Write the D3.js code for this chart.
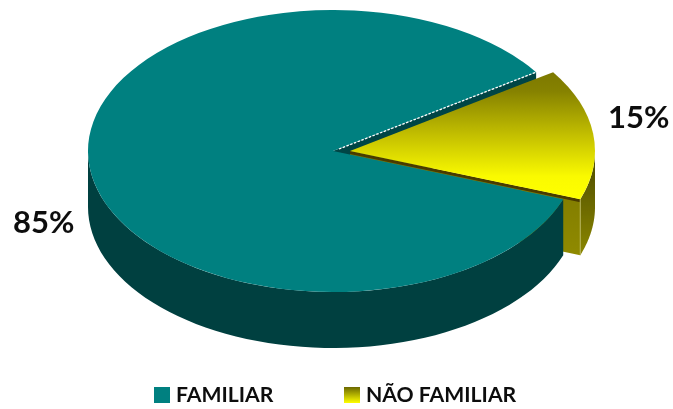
<!DOCTYPE html>
<html><head><meta charset="utf-8">
<script src="https://cdn.jsdelivr.net/npm/d3@7/dist/d3.min.js"></script>
<style>html,body{margin:0;padding:0;background:#fff}svg{display:block}text{font-family:Lato,"Open Sans",sans-serif;font-weight:700;fill:#111}</style>
</head><body><svg id="c" width="673" height="409"></svg>
<script>
const categories = ["FAMILIAR", "NÃO FAMILIAR"];
const values = [85, 15];
const labels = ["85%", "15%"];

const svg = d3.select("#c");
const defs = svg.append("defs");
defs.append("filter").attr("id","soft").attr("x","-5%").attr("y","-5%").attr("width","110%").attr("height","110%")
  .append("feGaussianBlur").attr("stdDeviation",0.55);
function grad(id, stops){
  const g = defs.append("linearGradient").attr("id",id).attr("x1",0).attr("y1",0).attr("x2",0).attr("y2",1);
  stops.forEach(([o,c])=>g.append("stop").attr("offset",o).attr("stop-color",c));
}
grad("yTop",[[0,"#7d7800"],[0.15,"#868200"],[0.5,"#c4c000"],[0.82,"#fafa00"],[1,"#ffff00"]]);
grad("yFace",[[0,"#7a7400"],[1,"#8f8a00"]]);
grad("yRim",[[0,"#4a4800"],[1,"#8a8600"]]);
grad("yLeg",[[0,"#6b6800"],[1,"#ffff00"]]);

const rx = 245, ry = 141, depth = 56;
const cy = 151, tealCx = 333, yelCx = 350;
const deg = Math.PI/180;
const root = svg.append("g").attr("filter","url(#soft)");

const pie = d3.pie().sort(null).value(d=>d).startAngle(110*deg).endAngle(470*deg);
const [teal, yellow] = pie(values);

const arc = d3.arc().innerRadius(0).outerRadius(rx);
const pt = (a,cx,dy=0)=>[cx+rx*Math.sin(a), cy+dy-ry*Math.cos(a)];
const rimPath = (a0,a1,cx)=>{
  const upper = d3.range(0,61).map(i=>pt(a0+(a1-a0)*i/60,cx));
  const lower = upper.map(p=>[p[0],p[1]+depth]).reverse();
  return d3.line()(upper.concat(lower))+"Z";
};
const cutPath = (a,cx)=>{
  const c=[cx,cy], e=pt(a,cx);
  return d3.line()([c,e,[e[0],e[1]+depth],[c[0],c[1]+depth]])+"Z";
};
const face = (d,cx,fill)=>root.append("path").attr("d",arc(d))
  .attr("transform",`translate(${cx},${cy}) scale(1,${ry/rx})`).attr("fill",fill);

// teal rear cut wall, seen through the gap
root.append("path").attr("d",cutPath(teal.endAngle,tealCx)).attr("fill","#004545");
// yellow slice
root.append("path").attr("d",cutPath(yellow.endAngle,yelCx)).attr("fill","url(#yFace)");
const ye = pt(yellow.endAngle,yelCx);
root.append("path").attr("d",d3.line()([[yelCx,cy],ye,[ye[0],ye[1]+3],[yelCx,cy+3]])+"Z").attr("fill","#4a3a00");
root.append("path").attr("d",rimPath(90*deg,yellow.endAngle-2*Math.PI,yelCx)).attr("fill","url(#yRim)");
root.append("line").attr("x1",ye[0]).attr("x2",ye[0]).attr("y1",ye[1]).attr("y2",ye[1]+depth).attr("stroke","#b8b45a").attr("stroke-width",1);
face(yellow,yelCx,"url(#yTop)");
// teal slice
root.append("path").attr("d",rimPath(teal.startAngle,270*deg,tealCx)).attr("fill","#004040");
face(teal,tealCx,"#008080");
// dotted highlight on the teal edge
const te = pt(teal.endAngle,tealCx);
root.append("line").attr("x1",tealCx+6).attr("y1",cy-2).attr("x2",te[0]).attr("y2",te[1])
  .attr("stroke","#fff").attr("stroke-width",1.3).attr("stroke-dasharray","2.5 1.5");

// value labels
root.append("text").attr("x",13).attr("y",233).attr("font-size",31).text(labels[0]);
root.append("text").attr("x",608).attr("y",128).attr("font-size",31).text(labels[1]);

// legend
const legX = d3.scaleOrdinal().domain(categories).range([154,344]);
const leg = root.selectAll("g.l").data(categories).join("g").attr("class","l")
  .attr("transform",d=>`translate(${legX(d)},387)`);
leg.append("rect").attr("width",16).attr("height",16).attr("fill",(d,i)=>i?"url(#yLeg)":"#008080");
leg.append("text").attr("x",22).attr("y",15).attr("font-size",21.2).text(d=>d);
</script></body></html>
